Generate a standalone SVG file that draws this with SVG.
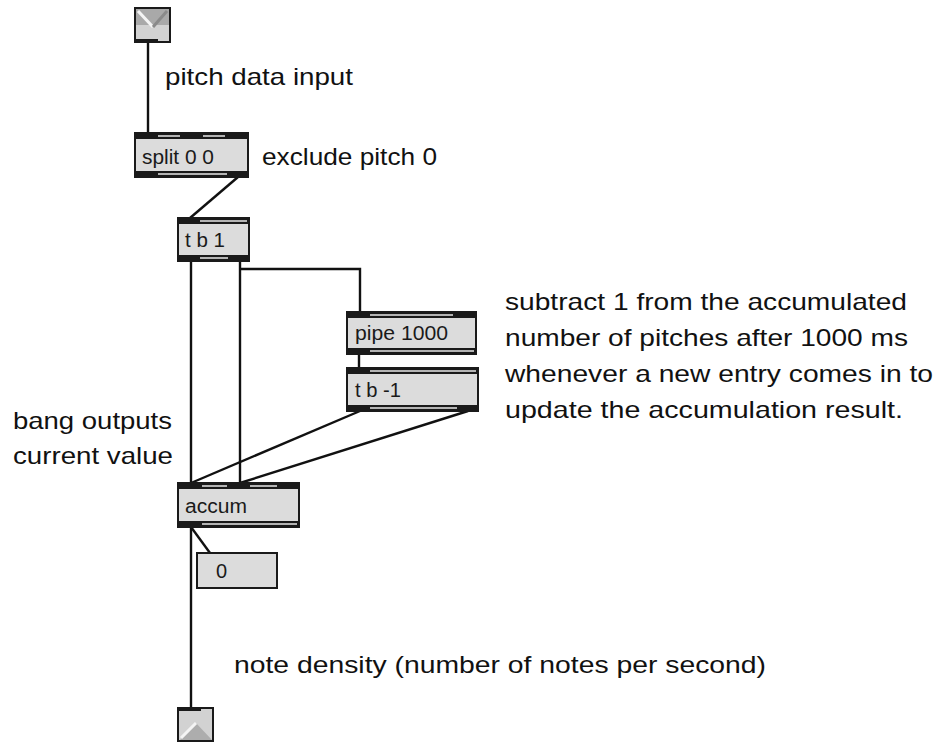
<svg xmlns="http://www.w3.org/2000/svg" width="937" height="743" viewBox="0 0 937 743">
<style>
.bg{fill:#ffffff}
.obj{fill:#dcdcdc;stroke:#1a1a1a;stroke-width:2}
.band{fill:#1a1a1a}
.stripe{fill:#b4b4b4}
.otext{font-family:"Liberation Sans",Arial,sans-serif;font-size:20px;fill:#1a1a1a}
.ctext{font-family:"Liberation Sans",Arial,sans-serif;font-size:24px;fill:#111111}
.wire{fill:none;stroke:#111111;stroke-width:2.4}
</style>
<rect class="bg" x="0" y="0" width="937" height="743"/>

<g id="connectors">
  <line class="wire" x1="148" y1="42" x2="148" y2="133"/>
  <line class="wire" x1="238" y1="177" x2="190" y2="218"/>
  <line class="wire" x1="191" y1="261" x2="191" y2="483"/>
  <line class="wire" x1="240" y1="261" x2="240" y2="483"/>
  <polyline class="wire" points="240,269 360,269 360,312"/>
  <line class="wire" x1="359" y1="354" x2="359" y2="368"/>
  <line class="wire" x1="360" y1="411" x2="191" y2="483"/>
  <line class="wire" x1="468" y1="411" x2="240" y2="483"/>
  <line class="wire" x1="191" y1="527" x2="210" y2="553"/>
  <line class="wire" x1="191" y1="527" x2="191" y2="708"/>
</g>

<g id="inlet">
  <rect x="135" y="8" width="35" height="34" fill="#d2d2d2" stroke="#1a1a1a" stroke-width="2"/>
  <rect x="136" y="9" width="33" height="16" fill="#a9a9a9"/>
  <polyline points="138,11 153,27" fill="none" stroke="#f4f4f4" stroke-width="3"/>
  <polyline points="153,27 167,11" fill="none" stroke="#8a8a8a" stroke-width="3"/>
  <rect x="135" y="39" width="23" height="3" class="band"/>
</g>

<g id="split">
  <rect class="obj" x="135" y="133" width="113" height="44"/>
  <rect class="band" x="135" y="133" width="113" height="6"/>
  <rect class="stripe" x="158" y="135" width="22" height="2"/>
  <rect class="stripe" x="203" y="135" width="22" height="2"/>
  <rect class="band" x="135" y="171" width="113" height="6"/>
  <rect class="stripe" x="158" y="173" width="69" height="2"/>
  <text class="otext" x="142" y="164" textLength="72" lengthAdjust="spacingAndGlyphs">split 0 0</text>
</g>

<g id="tb1">
  <rect class="obj" x="178" y="218" width="71" height="43"/>
  <rect class="band" x="178" y="218" width="71" height="6"/>
  <rect class="stripe" x="200" y="220" width="47" height="2"/>
  <rect class="band" x="178" y="255" width="71" height="6"/>
  <rect class="stripe" x="200" y="257" width="28" height="2"/>
  <text class="otext" x="185" y="247" textLength="40" lengthAdjust="spacingAndGlyphs">t b 1</text>
</g>

<g id="pipe">
  <rect class="obj" x="347" y="312" width="129" height="42"/>
  <rect class="band" x="347" y="312" width="129" height="6"/>
  <rect class="stripe" x="370" y="314" width="83" height="2"/>
  <rect class="band" x="347" y="348" width="129" height="6"/>
  <rect class="stripe" x="370" y="350" width="104" height="2"/>
  <text class="otext" x="355" y="340" textLength="93" lengthAdjust="spacingAndGlyphs">pipe 1000</text>
</g>

<g id="tbm1">
  <rect class="obj" x="347" y="368" width="131" height="43"/>
  <rect class="band" x="347" y="368" width="131" height="6"/>
  <rect class="stripe" x="370" y="370" width="106" height="2"/>
  <rect class="band" x="347" y="405" width="131" height="6"/>
  <rect class="stripe" x="370" y="407" width="87" height="2"/>
  <text class="otext" x="355" y="397" textLength="46" lengthAdjust="spacingAndGlyphs">t b -1</text>
</g>

<g id="accum">
  <rect class="obj" x="178" y="483" width="121" height="44"/>
  <rect class="band" x="178" y="483" width="121" height="6"/>
  <rect class="stripe" x="202" y="485" width="25" height="2"/>
  <rect class="stripe" x="250" y="485" width="27" height="2"/>
  <rect class="band" x="178" y="521" width="121" height="6"/>
  <rect class="stripe" x="202" y="523" width="95" height="2"/>
  <text class="otext" x="185" y="513" textLength="62" lengthAdjust="spacingAndGlyphs">accum</text>
</g>

<g id="number">
  <rect class="obj" x="197" y="553" width="80" height="35"/>
  <text class="otext" x="216" y="578">0</text>
</g>

<g id="outlet">
  <rect x="178" y="708" width="35" height="33" fill="#d2d2d2" stroke="#1a1a1a" stroke-width="2"/>
  <polygon points="180,740 196,723 212,740" fill="#adadad"/>
  <polyline points="181,738 196,723" fill="none" stroke="#f4f4f4" stroke-width="3"/>
  <rect x="178" y="708" width="23" height="3" class="band"/>
</g>

<g id="comments">
  <text class="ctext" x="165" y="85" textLength="188" lengthAdjust="spacingAndGlyphs">pitch data input</text>
  <text class="ctext" x="262" y="165" textLength="175" lengthAdjust="spacingAndGlyphs">exclude pitch 0</text>
  <text class="ctext" x="505" y="310" textLength="402" lengthAdjust="spacingAndGlyphs">subtract 1 from the accumulated</text>
  <text class="ctext" x="505" y="346" textLength="403" lengthAdjust="spacingAndGlyphs">number of pitches after 1000 ms</text>
  <text class="ctext" x="505" y="382" textLength="428" lengthAdjust="spacingAndGlyphs">whenever a new entry comes in to</text>
  <text class="ctext" x="505" y="418" textLength="398" lengthAdjust="spacingAndGlyphs">update the accumulation result.</text>
  <text class="ctext" x="13" y="429" textLength="159" lengthAdjust="spacingAndGlyphs">bang outputs</text>
  <text class="ctext" x="13" y="464" textLength="160" lengthAdjust="spacingAndGlyphs">current value</text>
  <text class="ctext" x="234" y="673" textLength="532" lengthAdjust="spacingAndGlyphs">note density (number of notes per second)</text>
</g>
</svg>
